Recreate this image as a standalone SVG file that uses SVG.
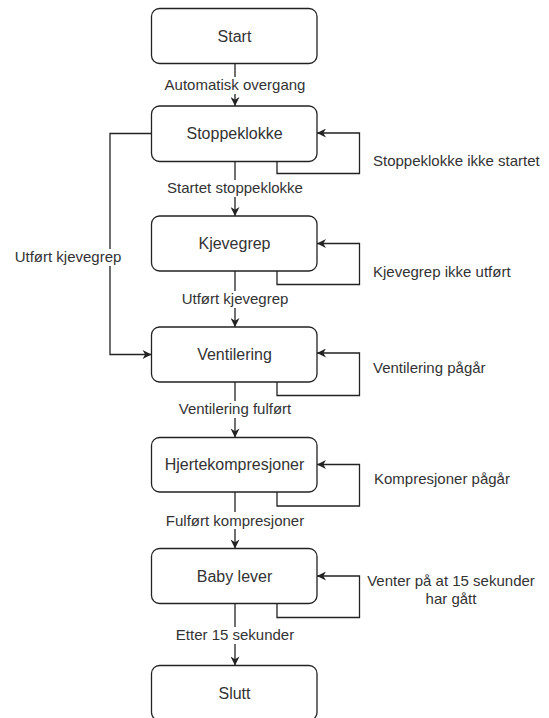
<svg xmlns="http://www.w3.org/2000/svg" width="549" height="718" viewBox="0 0 549 718">
<style>
.box{fill:#fff;stroke:#222;stroke-width:1.3}
.edge{fill:none;stroke:#222;stroke-width:1.3}
.nt{font-family:"Liberation Sans",Arial,sans-serif;font-size:16px;fill:#333;text-anchor:middle}
.lt{font-family:"Liberation Sans",Arial,sans-serif;font-size:15px;fill:#333}
.bg{fill:#fff}
</style>
<defs>
<marker id="arr" viewBox="0 0 10 10" refX="10" refY="5" markerWidth="10" markerHeight="9" markerUnits="userSpaceOnUse" orient="auto">
<path d="M0,0 L10,5 L0,10 L3,5 Z" fill="#222"/>
</marker>
</defs>
<rect width="549" height="718" fill="#fff"/>
<g id="connectors">
<path class="edge" d="M235,63.5 V106" marker-end="url(#arr)"/>
<path class="edge" d="M235,161.5 V216" marker-end="url(#arr)"/>
<path class="edge" d="M235,271 V327" marker-end="url(#arr)"/>
<path class="edge" d="M235,382 V437.5" marker-end="url(#arr)"/>
<path class="edge" d="M235,492 V548.5" marker-end="url(#arr)"/>
<path class="edge" d="M235,603.5 V665.5" marker-end="url(#arr)"/>
<path class="edge" d="M151.5,133.5 H110 V354.5 H151.5" marker-end="url(#arr)"/>
<path class="edge" d="M277,161.5 V173.5 H359.5 V133 H317" marker-end="url(#arr)"/>
<path class="edge" d="M277,271 V284.5 H359.5 V243.5 H317" marker-end="url(#arr)"/>
<path class="edge" d="M277,382 V395.5 H359.5 V353 H317" marker-end="url(#arr)"/>
<path class="edge" d="M277,492 V506 H359.5 V464.5 H317" marker-end="url(#arr)"/>
<path class="edge" d="M277,603.5 V617.5 H359.5 V576 H317" marker-end="url(#arr)"/>
<rect class="bg" x="162" y="77" width="146" height="17"/>
<text class="lt" x="235" y="90" text-anchor="middle">Automatisk overgang</text>
<rect class="bg" x="164" y="180" width="142" height="17"/>
<text class="lt" x="235" y="193" text-anchor="middle">Startet stoppeklokke</text>
<rect class="bg" x="179" y="291" width="112" height="17"/>
<text class="lt" x="235" y="304" text-anchor="middle">Utført kjevegrep</text>
<rect class="bg" x="172" y="401" width="126" height="17"/>
<text class="lt" x="235" y="414" text-anchor="middle">Ventilering fulført</text>
<rect class="bg" x="163" y="512" width="144" height="17"/>
<text class="lt" x="235" y="525.5" text-anchor="middle">Fulført kompresjoner</text>
<rect class="bg" x="168" y="627" width="134" height="17"/>
<text class="lt" x="235" y="640" text-anchor="middle">Etter 15 sekunder</text>
<rect class="bg" x="12" y="249" width="112" height="17"/>
<text class="lt" x="68" y="262" text-anchor="middle">Utført kjevegrep</text>
<text class="lt" x="373" y="166">Stoppeklokke ikke startet</text>
<text class="lt" x="373" y="277">Kjevegrep ikke utført</text>
<text class="lt" x="373" y="373">Ventilering pågår</text>
<text class="lt" x="374" y="484">Kompresjoner pågår</text>
<text class="lt" x="451" y="586" text-anchor="middle">Venter på at 15 sekunder</text>
<text class="lt" x="451" y="604" text-anchor="middle">har gått</text>
</g>
<g id="start"><rect class="box" x="151.5" y="8.5" width="165.5" height="55" rx="8"/><text class="nt" x="234.5" y="41.5">Start</text></g>
<g id="stoppeklokke"><rect class="box" x="151.5" y="106" width="165.5" height="55.5" rx="8"/><text class="nt" x="234.5" y="139">Stoppeklokke</text></g>
<g id="kjevegrep"><rect class="box" x="151.5" y="216" width="165.5" height="55" rx="8"/><text class="nt" x="234.5" y="249">Kjevegrep</text></g>
<g id="ventilering"><rect class="box" x="151.5" y="327" width="165.5" height="55" rx="8"/><text class="nt" x="234.5" y="360">Ventilering</text></g>
<g id="hjertekompresjoner"><rect class="box" x="151.5" y="437.5" width="165.5" height="54.5" rx="8"/><text class="nt" x="234.5" y="470">Hjertekompresjoner</text></g>
<g id="babylever"><rect class="box" x="151.5" y="548.5" width="165.5" height="55" rx="8"/><text class="nt" x="234.5" y="581.5">Baby lever</text></g>
<g id="slutt"><rect class="box" x="151.5" y="665.5" width="165.5" height="55" rx="8"/><text class="nt" x="234.5" y="698.5">Slutt</text></g>
</svg>
